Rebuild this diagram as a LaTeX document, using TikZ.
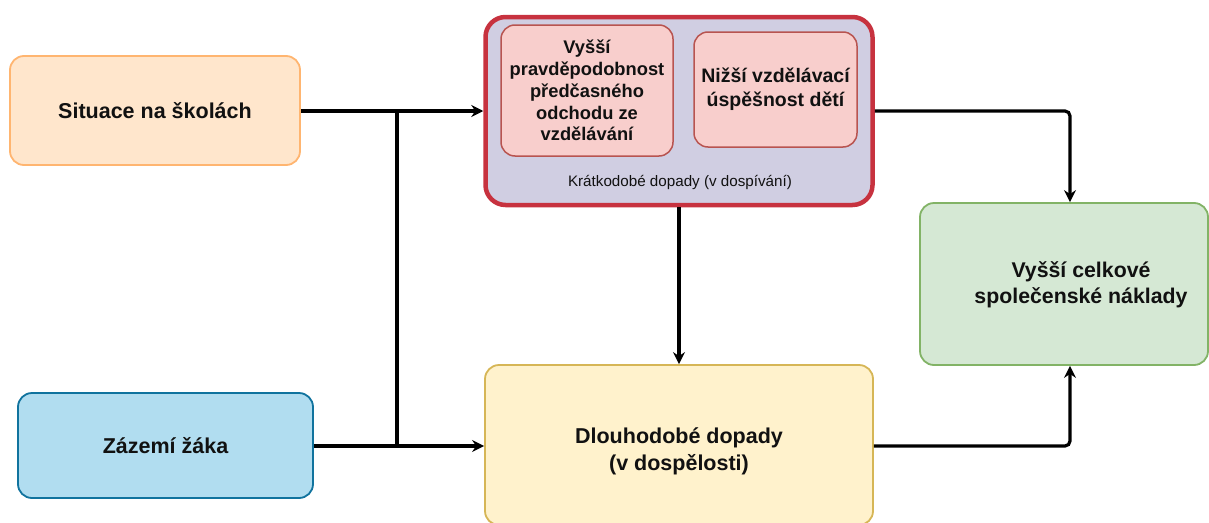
\documentclass[tikz,border=0pt]{standalone}
\usepackage{fontspec}
\setmainfont{Liberation Sans}
\usetikzlibrary{arrows.meta}

\definecolor{orangefill}{HTML}{FFE6CC}
\definecolor{orangeline}{HTML}{FFB570}
\definecolor{bluefill}{HTML}{B1DDF0}
\definecolor{blueline}{HTML}{10739E}
\definecolor{purplefill}{HTML}{D0CEE2}
\definecolor{redline}{HTML}{C7323F}
\definecolor{pinkfill}{HTML}{F8CECC}
\definecolor{pinkline}{HTML}{B85450}
\definecolor{yellowfill}{HTML}{FFF2CC}
\definecolor{yellowline}{HTML}{D6B656}
\definecolor{greenfill}{HTML}{D5E8D4}
\definecolor{greenline}{HTML}{82B366}
\definecolor{ink}{HTML}{111111}

\tikzset{
  box/.style={draw, rounded corners=14pt, line width=1.8pt, inner sep=0pt,
    align=center, text=ink, font=\bfseries\fontsize{21.5}{26}\selectfont},
  innerbox/.style={box, rounded corners=14pt, line width=1.5pt, fill=pinkfill,
    draw=pinkline},
  link/.style={line width=3.2pt, rounded corners=5pt,
    -{Stealth[length=12pt,width=12pt,inset=4pt]}},
  plain/.style={line width=3.2pt, rounded corners=5pt},
}

\begin{document}
\begin{tikzpicture}[x=1pt,y=-1pt]
  \useasboundingbox (0,0) rectangle (1209,522);

  % source boxes
  \node[box, fill=orangefill, draw=orangeline, minimum width=290pt, minimum height=109pt]
    (sit) at (155,110.5) {Situace na školách};
  \node[box, fill=bluefill, draw=blueline, minimum width=295pt, minimum height=105pt]
    (zaz) at (165.5,445.5) {Zázemí žáka};

  % short-term container with its two sub-boxes
  \node[draw=redline, fill=purplefill, rounded corners=20pt, line width=4.5pt,
    minimum width=387pt, minimum height=188pt, inner sep=0pt]
    (short) at (679,111) {};
  \node[innerbox, minimum width=172pt, minimum height=131pt,
    font=\bfseries\fontsize{18.3}{21.8}\selectfont]
    (early) at (587,90.5) {Vyšší\\pravděpodobnost\\předčasného\\odchodu ze\\vzdělávání};
  \node[innerbox, minimum width=163pt, minimum height=115pt,
    font=\bfseries\fontsize{19.5}{24}\selectfont]
    (low) at (775.5,89.5) {Nižší vzdělávací\\úspěšnost dětí};
  \node[text=ink, font=\fontsize{15.2}{17}\selectfont] (shortlbl) at (680,182)
    {Krátkodobé dopady (v dospívání)};

  % long-term box and outcome
  \node[box, fill=yellowfill, draw=yellowline, minimum width=388pt, minimum height=160pt]
    (long) at (679,445) {};
  \node[text=ink, align=center, font=\bfseries\fontsize{21.5}{27}\selectfont]
    (longlbl) at (679,451) {Dlouhodobé dopady\\(v dospělosti)};
  \node[box, fill=greenfill, draw=greenline, minimum width=288pt, minimum height=162pt]
    (cost) at (1064,284) {};
  \node[text=ink, align=center, font=\bfseries\fontsize{21.3}{26.5}\selectfont]
    (costlbl) at (1081,285) {Vyšší celkové\\společenské náklady};

  % junction points and the column of the right-hand connectors
  \coordinate (jtop) at (397,111);
  \coordinate (jbot) at (397,446);
  \coordinate (xr) at (1070,0);

  % connectors
  \draw[link] (sit.east |- jtop) -- (short.west |- jtop);
  \draw[link] (zaz.east |- jbot) -- (long.west |- jbot);
  \draw[plain] (jtop) -- (jbot);
  \draw[link] (short.south) -- (short.south |- long.north);
  \draw[link] (short.east |- jtop) -| (xr |- cost.north);
  \draw[link] (long.east |- jbot) -| (xr |- cost.south);
\end{tikzpicture}
\end{document}
